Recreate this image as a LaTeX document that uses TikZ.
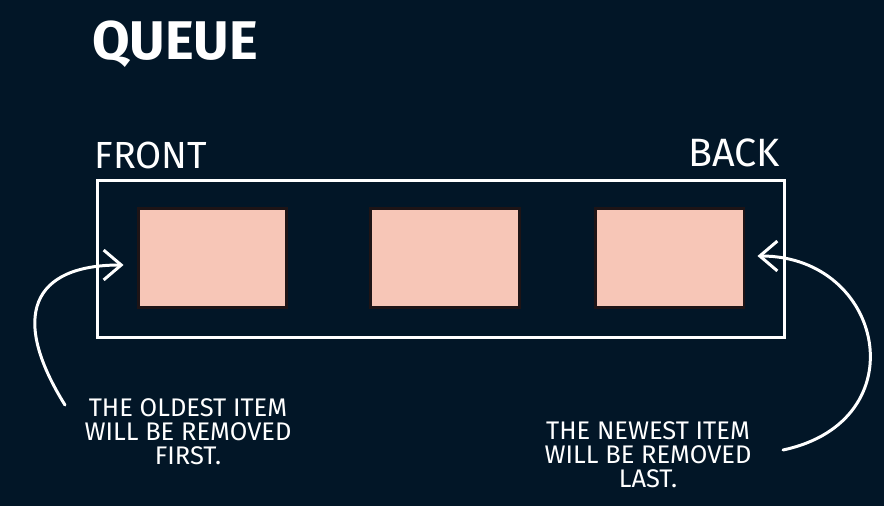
\documentclass[tikz,border=0pt]{standalone}
\usepackage{fontspec}
\setmainfont{Fira Sans}
\usetikzlibrary{arrows.meta}
\definecolor{night}{HTML}{021627}
\definecolor{peach}{HTML}{F7C6B7}
\definecolor{rim}{HTML}{1E1416}
\tikzset{
  itembox/.style={draw=rim, fill=peach, line width=1.7pt, minimum width=2.98cm, minimum height=2cm},
  caption/.style={text=white, font=\fontsize{14.5}{13.6}\selectfont, align=center, inner sep=0pt},
  curvy/.style={white, line width=1.7pt, line cap=round, -{Straight Barb[length=10pt, width=17pt, line width=1.7pt]}}
}
\begin{document}
\begin{tikzpicture}[x=0.02cm, y=-0.02cm]

% ---------------- canvas ----------------
\fill[night] (0,0) rectangle (884,506);
\useasboundingbox (0,0) rectangle (884,506);

% ---------------- labels ----------------
\node[text=white, font=\fontsize{31}{33}\selectfont\bfseries, inner sep=0pt] (title) at (175,44) {QUEUE};
\node[text=white, font=\fontsize{21.5}{23}\selectfont, inner sep=0pt] (front) at (151,155) {FRONT};
\node[text=white, font=\fontsize{22.5}{25}\selectfont, inner sep=0pt] (back) at (734,153) {BACK};

% ---------------- queue and items ----------------
\node[draw=white, line width=1.7pt, minimum width=13.76cm, minimum height=3.16cm] (queue) at (441,259) {};
\node[itembox] (item1) at (212.5,258) {};
\node[itembox] (item2) at (445,258) {};
\node[itembox] (item3) at (669.5,258) {};

% ---------------- notes ----------------
\node[caption] (oldnote) at (188,432) {THE OLDEST ITEM\\WILL BE REMOVED\\FIRST.};
\node[caption] (newnote) at (648,455) {THE NEWEST ITEM\\WILL BE REMOVED\\LAST.};
\coordinate (oldtail) at (65,405);
\coordinate (newtail) at (783,450);

% ---------------- arrows ----------------
\draw[curvy, shorten >=0.26cm] (oldtail) to[out=122, in=180, looseness=1.7] ([yshift=-0.14cm]item1.west);
\draw[curvy, shorten >=0.24cm] (newtail) to[out=12, in=0, looseness=1.8] ([yshift=0.04cm]item3.east);

\end{tikzpicture}
\end{document}
